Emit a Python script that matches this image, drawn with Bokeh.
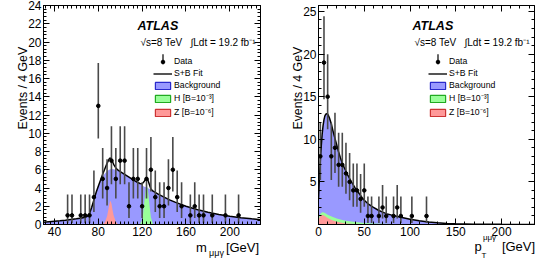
import numpy as np
from bokeh.plotting import figure
from bokeh.layouts import row
from bokeh.models import (Range1d, LinearAxis, SingleIntervalTicker, FixedTicker, Label,
                          Legend, LegendItem, CustomLabelingPolicy)
from bokeh.embed import file_html
from bokeh.resources import INLINE

FONT = "Liberation Sans"
NAN = float("nan")

# ---------------- data: left panel (m_mumugamma) ----------------
m_centers = [52, 56, 64, 68, 72, 76, 80, 84, 88, 92, 96, 100, 104, 108, 112, 116,
             120, 124, 128, 132, 136, 140, 144, 148, 152, 156, 164, 168, 172, 176,
             184, 196, 208]
m_counts = [1, 1, 1, 1, 1, 3, 13, 5, 4, 7, 5, 7, 7, 2, 5, 5,
            2, 5, 6, 3, 2, 2, 4, 6, 3, 2, 1, 2, 1, 1,
            1, 1, 1]

m_curve = [30, 35, 40, 45, 50, 55, 60, 65, 68, 70, 72, 74, 76, 78, 80, 82, 84, 86,
           88, 90, 91, 92, 94, 96, 98, 100, 104, 108, 112, 116, 118, 120, 122, 123,
           124, 125, 126, 128, 130, 135, 140, 145, 150, 160, 170, 180, 190, 200,
           210, 220, 228]
m_bkg = [0.25, 0.3, 0.35, 0.4, 0.47, 0.55, 0.62, 0.72, 0.8, 0.9, 1.2, 1.9, 2.7, 3.5,
         4.2, 4.8, 5.25, 5.6, 5.85, 6.0, 6.05, 6.07, 6.05, 6.0, 5.9, 5.8, 5.5, 5.2,
         4.9, 4.6, 4.45, 4.3, 4.15, 4.1, 4.05, 4.0, 3.95, 3.8, 3.65, 3.3, 3.0, 2.7,
         2.45, 2.0, 1.65, 1.35, 1.1, 0.9, 0.75, 0.62, 0.53]
m_sb = [0.25, 0.3, 0.35, 0.4, 0.47, 0.55, 0.62, 0.72, 0.8, 0.9, 1.2, 1.9, 2.7, 3.5,
        4.2, 4.85, 5.5, 6.1, 6.7, 7.2, 7.3, 7.15, 6.6, 6.2, 5.95, 5.8, 5.5, 5.2,
        4.9, 4.6, 4.5, 4.45, 4.75, 4.95, 5.05, 4.95, 4.6, 3.9, 3.65, 3.3, 3.0, 2.7,
        2.45, 2.0, 1.65, 1.35, 1.1, 0.9, 0.75, 0.62, 0.53]
m_z_x = [84, 86, 88, 89, 90, 91, 92, 93, 94, 96, 98]
m_z_y = [0, 0.25, 0.9, 1.5, 2.2, 2.6, 2.3, 1.6, 1.0, 0.3, 0]
m_h_x = [118, 120, 121, 122, 123, 124, 125, 126, 127, 128, 130]
m_h_y = [0, 0.5, 1.3, 2.5, 3.7, 4.3, 4.0, 3.0, 1.8, 0.8, 0]

# ---------------- data: right panel (pT) ----------------
pt_centers = [2, 6, 10, 14, 18, 22, 26, 30, 34, 38, 42, 46, 50, 54, 58, 66, 70,
              74, 82, 86, 90, 102, 118]
pt_counts = [8, 19, 15, 8, 9, 7, 7, 6, 5, 4, 4, 3, 4, 1, 1, 1, 2,
             1, 1, 2, 1, 1, 1]
pt_curve = [0, 1, 2, 3, 4, 5, 6, 7, 8, 9, 10, 11, 12, 14, 16, 18, 20, 22, 24, 26,
            28, 30, 32, 34, 36, 38, 40, 42, 44, 46, 48, 50, 55, 60, 65, 70, 75, 80,
            90, 100, 110, 120, 130, 140, 150, 170, 200, 236]
pt_bkg = [3.0, 5.5, 7.5, 9.2, 10.6, 11.6, 12.3, 12.75, 12.95, 13.0, 12.95, 12.75,
          12.5, 11.8, 10.9, 10.1, 9.3, 8.5, 7.8, 7.2, 6.7, 6.25, 5.8, 5.4, 5.0,
          4.65, 4.3, 4.0, 3.7, 3.4, 3.1, 2.85, 2.35, 2.0, 1.7, 1.45, 1.25, 1.1,
          0.85, 0.62, 0.44, 0.3, 0.2, 0.13, 0.08, 0.04, 0.015, 0.0]
pt_z_x = [0, 1, 2, 4, 6, 8, 10, 15, 20, 25, 30, 40, 50, 60]
pt_z_y = [0.5, 0.8, 1.0, 1.15, 1.05, 0.9, 0.75, 0.5, 0.32, 0.2, 0.12, 0.05, 0.02, 0.0]
pt_h_x = [0, 1, 2, 4, 6, 8, 10, 15, 20, 25, 30, 40, 50, 60, 80, 100, 120, 140]
pt_h_y = [0.6, 1.0, 1.25, 1.45, 1.4, 1.28, 1.15, 0.9, 0.7, 0.55, 0.43, 0.28, 0.19,
          0.13, 0.07, 0.035, 0.015, 0.0]

# 68% Poisson intervals for the observed counts
POIS_LO = {1: 0.173, 2: 0.708, 3: 1.367, 4: 2.086, 5: 2.840, 6: 3.620, 7: 4.419,
           8: 5.232, 9: 6.057, 13: 9.43, 15: 11.17, 19: 14.69}
POIS_HI = {1: 3.300, 2: 4.638, 3: 5.918, 4: 7.163, 5: 8.382, 6: 9.584, 7: 10.77,
           8: 11.95, 9: 13.11, 13: 17.70, 15: 19.98, 19: 24.45}

BLUE_FILL, BLUE_LINE = "#9999ff", "#2a2acc"
GREEN_FILL, GREEN_LINE = "#99ff99", "#22aa22"
RED_FILL, RED_LINE = "#ff9999", "#cc3333"

H = 262
TOP, BOTTOM = 5, 37
FRAME_H = H - TOP - BOTTOM
NO_LABELS = CustomLabelingPolicy(code="return []")

LEG_X, LEG_Y = 110, 106          # legend bottom-left, px from frame bottom-left
LEG_GLYPH_W = 19
LEG_DATA_ROW = 54                # px below frame top of the "Data" row centre


def style_axis(ax, ticker, labels=True):
    ax.ticker = ticker
    ax.major_tick_in = 6
    ax.major_tick_out = 0
    ax.minor_tick_in = 3
    ax.minor_tick_out = 0
    ax.axis_line_color = "black"
    ax.major_tick_line_color = "black"
    ax.minor_tick_line_color = "black"
    ax.major_label_text_font = FONT
    ax.major_label_text_color = "black"
    if labels:
        ax.major_label_text_font_size = "12px"
        ax.major_label_standoff = 2
    else:
        ax.major_label_policy = NO_LABELS
        ax.major_label_text_font_size = "1px"
        ax.major_label_standoff = 0


def text_axis(p, side, ticks, labels, size, standoff, orientation="horizontal"):
    ticks = [round(t, 2) for t in ticks]
    ax = LinearAxis(ticker=FixedTicker(ticks=ticks, minor_ticks=[]),
                    major_label_overrides={t: s for t, s in zip(ticks, labels)})
    ax.axis_line_color = None
    ax.major_tick_line_color = None
    ax.minor_tick_line_color = None
    ax.major_tick_in = 0
    ax.major_tick_out = 0
    ax.minor_tick_in = 0
    ax.minor_tick_out = 0
    ax.major_label_text_font = FONT
    ax.major_label_text_font_size = size
    ax.major_label_text_color = "black"
    ax.major_label_standoff = standoff
    ax.major_label_orientation = orientation
    p.add_layout(ax, side)
    return ax


def make_panel(width, bl, br, xr, yr, xint, xminor, yint, yminor,
               xc, counts, cx, bkg, sb, zx, zy, hx, hy, h_first,
               atlas_px, lumi_px, hide_y0):
    frame_w = width - bl - br

    def dx(px):  # horizontal pixel offset from frame left -> data
        return xr[0] + px / frame_w * (xr[1] - xr[0])

    def dy(px):  # vertical pixel offset from frame top -> data
        return yr[1] - px / FRAME_H * (yr[1] - yr[0])

    p = figure(width=width, height=H, x_range=Range1d(*xr), y_range=Range1d(*yr),
               output_backend="svg", toolbar_location=None,
               min_border_left=bl, min_border_right=br,
               min_border_top=TOP, min_border_bottom=BOTTOM)
    p.xgrid.visible = False
    p.ygrid.visible = False
    p.outline_line_color = "black"
    p.background_fill_color = "white"
    p.border_fill_color = "white"

    style_axis(p.xaxis[0], SingleIntervalTicker(interval=xint, num_minor_ticks=xminor))
    style_axis(p.yaxis[0], SingleIntervalTicker(interval=yint, num_minor_ticks=yminor))
    if hide_y0:
        p.yaxis[0].major_label_overrides = {0: ""}
    top = LinearAxis()
    style_axis(top, SingleIntervalTicker(interval=xint, num_minor_ticks=xminor), labels=False)
    p.add_layout(top, "above")
    rgt = LinearAxis()
    style_axis(rgt, SingleIntervalTicker(interval=yint, num_minor_ticks=yminor), labels=False)
    p.add_layout(rgt, "right")

    # background and signal shapes
    p.varea(x=cx, y1=[0] * len(cx), y2=bkg, fill_color=BLUE_FILL)
    if h_first:
        p.varea(x=hx, y1=[0] * len(hx), y2=hy, fill_color=GREEN_FILL)
        p.varea(x=zx, y1=[0] * len(zx), y2=zy, fill_color=RED_FILL)
    else:
        p.varea(x=zx, y1=[0] * len(zx), y2=zy, fill_color=RED_FILL)
        p.varea(x=hx, y1=[0] * len(hx), y2=hy, fill_color=GREEN_FILL)
    p.line(cx, sb, line_color="black", line_width=1.5)

    # data with Poisson error bars
    lo = [POIS_LO[c] for c in counts]
    hi = [POIS_HI[c] for c in counts]
    p.segment(x0=xc, x1=xc, y0=lo, y1=hi, line_color="#4a4a4a", line_width=1.6)
    dots = p.scatter(xc, counts, size=3.6, fill_color="black", line_color="black")

    # legend-only renderers (NaN data: nothing drawn in the frame)
    fitleg = p.line([NAN], [NAN], line_color="#555555", line_width=2)
    bk = p.quad(left=[NAN], right=[NAN], top=[NAN], bottom=[NAN], fill_color=BLUE_FILL,
                line_color=BLUE_LINE, line_width=1.2)
    hq = p.quad(left=[NAN], right=[NAN], top=[NAN], bottom=[NAN], fill_color=GREEN_FILL,
                line_color=GREEN_LINE, line_width=1.2)
    zq = p.quad(left=[NAN], right=[NAN], top=[NAN], bottom=[NAN], fill_color=RED_FILL,
                line_color=RED_LINE, line_width=1.2)

    legend = Legend(items=[
        LegendItem(label="Data", renderers=[dots]),
        LegendItem(label="S+B Fit", renderers=[fitleg]),
        LegendItem(label="Background", renderers=[bk]),
        LegendItem(label="H [B=10\u207b\u00b3]", renderers=[hq]),
        LegendItem(label="Z [B=10\u207b\u2076]", renderers=[zq]),
    ], location=(LEG_X, LEG_Y), border_line_color=None, background_fill_alpha=0,
        glyph_width=LEG_GLYPH_W, glyph_height=9, label_height=10, label_standoff=2,
        spacing=2, padding=0, margin=0,
        label_text_font=FONT, label_text_font_size="8.7px", label_text_color="black")
    p.add_layout(legend)

    # vertical error-bar stroke of the "Data" legend symbol
    gx = dx(LEG_X + LEG_GLYPH_W / 2)
    p.segment(x0=[gx], x1=[gx], y0=[dy(LEG_DATA_ROW - 5)], y1=[dy(LEG_DATA_ROW + 5)],
              line_color="black", line_width=1.2)

    p.add_layout(Label(x=dx(atlas_px[0]), y=dy(atlas_px[1]), text="ATLAS", text_font=FONT,
                       text_font_style="bold italic", text_font_size="12.5px",
                       text_baseline="middle", text_color="black"))
    p.add_layout(Label(x=dx(lumi_px[0]), y=dy(lumi_px[1]),
                       text="\u221as=8 TeV\u00a0\u00a0 \u222bLdt = 19.2 fb\u207b\u00b9",
                       text_font=FONT, text_font_size="10px",
                       text_baseline="middle", text_color="black"))

    # y-axis title, top aligned (text length ~83 px)
    text_axis(p, "left", [dy(41.5)], ["Events / 4 GeV"], "12.3px", 2, np.pi / 2)
    return p, dx


left, ldx = make_panel(272, 43, 12, (30, 228), (0, 24), 40, 10, 2, 5,
                       m_centers, m_counts, m_curve, m_bkg, m_sb,
                       m_z_x, m_z_y, m_h_x, m_h_y, False,
                       (94, 21), (97, 37), False)
right, rdx = make_panel(276, 46, 14, (0, 236), (0, 25.7), 50, 5, 5, 5,
                        pt_centers, pt_counts, pt_curve, pt_bkg, pt_bkg,
                        pt_z_x, pt_z_y, pt_h_x, pt_h_y, True,
                        (94, 21), (96, 37), True)

# x-axis titles, right aligned at the frame edge (pixel offsets from frame left)
text_axis(left, "below", [ldx(158), ldx(199)], ["m", "[GeV]"], "13px", 1)
text_axis(left, "below", [ldx(173)], ["\u03bc\u03bc\u03b3"], "9px", -10)

text_axis(right, "below", [rdx(171)], ["\u03bc\u03bc\u03b3"], "8px", -6)
text_axis(right, "below", [rdx(159.5), rdx(200)], ["p", "[GeV]"], "13px", -6)
text_axis(right, "below", [rdx(165.5)], ["T"], "8px", -6)

layout = row(left, right)
open("out.html", "w").write(file_html(layout, INLINE))
